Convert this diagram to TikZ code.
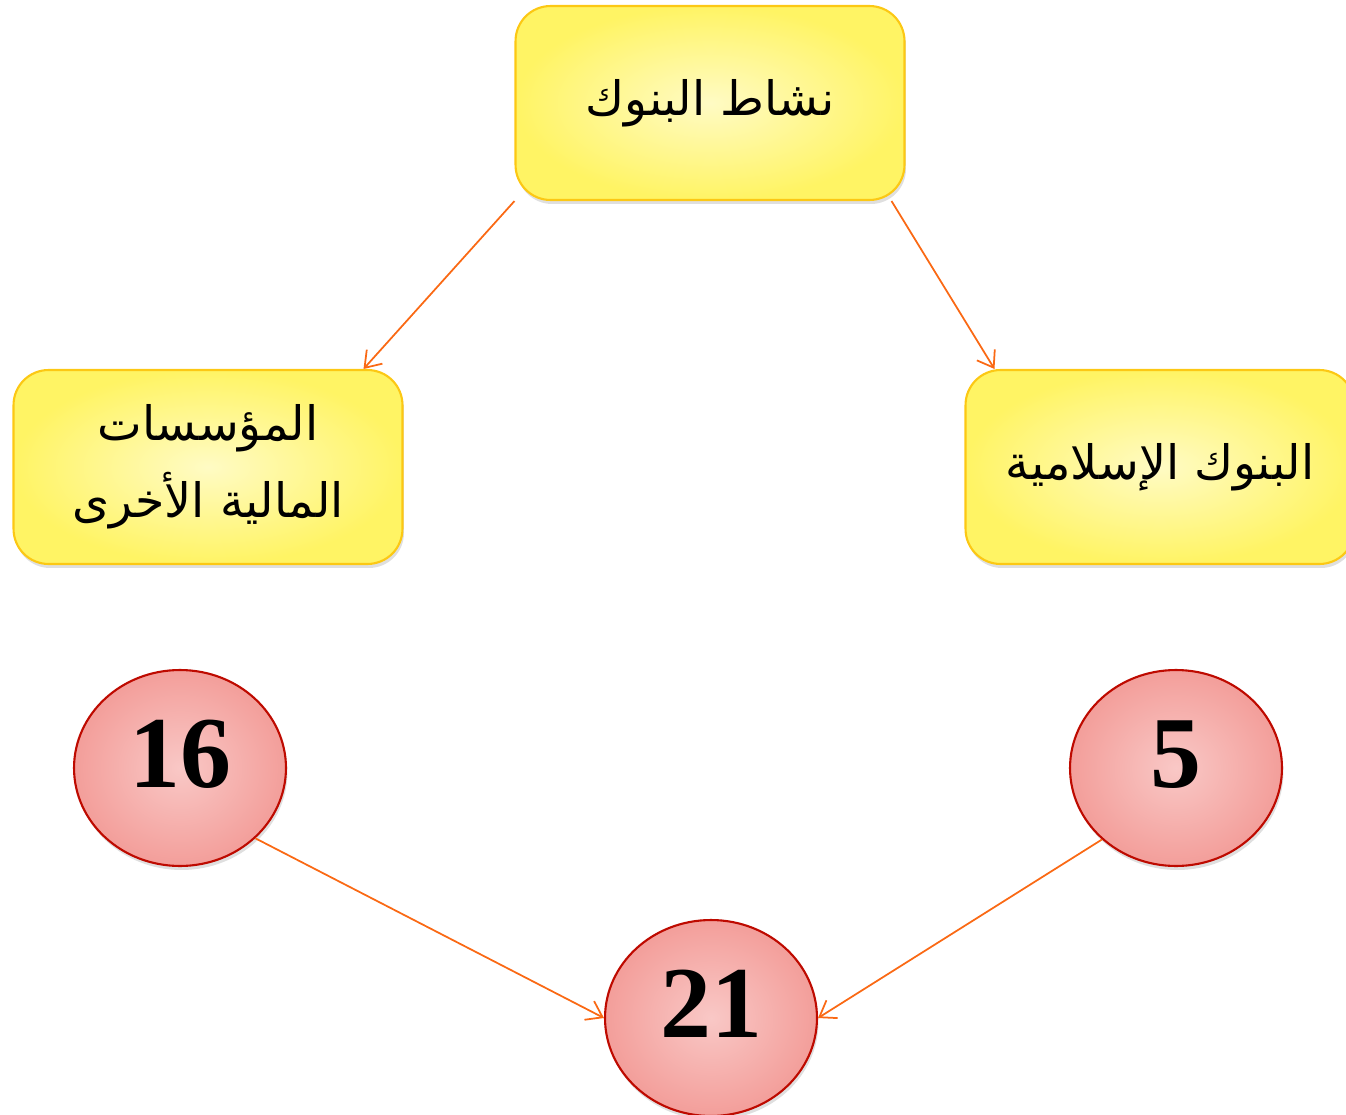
\documentclass[tikz,border=0pt]{standalone}
\usepackage{fontspec}
\setmainfont{Liberation Serif}
\newfontfamily\arabicfont[Script=Arabic]{DejaVu Sans}
\TeXXeTstate=1
\usetikzlibrary{shapes.geometric,shadows,arrows.meta}
\definecolor{boxin}{RGB}{255,251,196}
\definecolor{boxout}{RGB}{255,244,100}
\definecolor{boxline}{RGB}{252,200,20}
\definecolor{ballin}{RGB}{249,200,198}
\definecolor{ballout}{RGB}{243,158,154}
\definecolor{ballline}{RGB}{190,10,0}
\definecolor{arr}{RGB}{250,105,20}
\begin{document}
\begin{tikzpicture}[x=0.02cm,y=-0.02cm,
    topic/.style={rectangle,rounded corners=0.7cm,minimum width=7.78cm,minimum height=3.88cm,
      inner color=boxin,outer color=boxout,draw=boxline,line width=1.2pt,
      drop shadow={shadow xshift=0.03cm,shadow yshift=-0.08cm,opacity=0.25},
      align=center,font=\arabicfont\fontsize{27}{44}\selectfont},
    count/.style={ellipse,minimum width=4.24cm,minimum height=3.92cm,inner sep=0pt,
      inner color=ballin,outer color=ballout,draw=ballline,line width=1.2pt,
      drop shadow={shadow xshift=0.03cm,shadow yshift=-0.08cm,opacity=0.25},
      text depth=0.55cm,font=\bfseries\fontsize{58}{64}\selectfont},
    link/.style={draw=arr,line width=1pt,-{Straight Barb[length=3mm,width=4.2mm]}}]
  \useasboundingbox (0,0) rectangle (1346,1115);
  % boxes
  \node[topic] (top) at (710,103) {\beginR نشاط البنوك\endR};
  \node[topic] (other) at (208,467) {\beginR المؤسسات\endR\\\beginR المالية الأخرى\endR};
  \node[topic] (islamic) at (1160,467) {\beginR البنوك الإسلامية\endR};
  % numbers
  \node[count] (n16) at (180,768) {16};
  \node[count] (n5) at (1176,768) {5};
  \node[count] (n21) at (711,1018) {21};
  % arrows
  \draw[link] (top.south west) -- ([xshift=-0.8cm]other.north east);
  \draw[link] ([xshift=-0.28cm]top.south east) -- ([xshift=0.6cm]islamic.north west);
  \draw[link] (n16.-43) -- (n21.west);
  \draw[link] (n5.-136) -- (n21.east);
\end{tikzpicture}
\end{document}
